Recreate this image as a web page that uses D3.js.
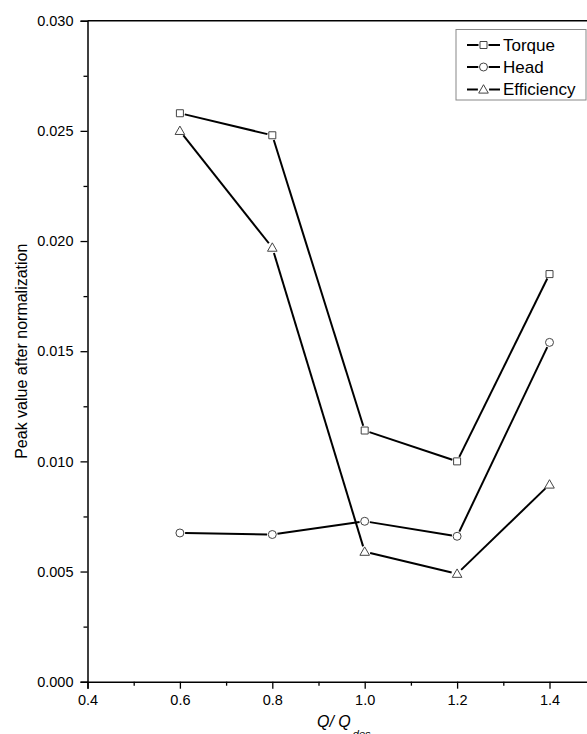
<!DOCTYPE html>
<html>
<head>
<meta charset="utf-8">
<script src="https://cdn.jsdelivr.net/npm/d3@7"></script>
<style>
  html, body { margin: 0; padding: 0; background: #fff; overflow: hidden; }
  svg { display: block; font-family: "Liberation Sans", Arial, sans-serif; }
</style>
</head>
<body>
<svg id="chart" width="587" height="734"></svg>
<script>
// Flow ratio Q/Qdes
const flowRatio = [0.6, 0.8, 1.0, 1.2, 1.4];

// Peak values after normalization
const torque     = [0.0258, 0.0248, 0.0114, 0.0100, 0.0185];
const head       = [0.00675, 0.00668, 0.00728, 0.00660, 0.0154];
const efficiency = [0.0250, 0.0197, 0.0059, 0.00490, 0.00895];

const seriesNames = ["Torque", "Head", "Efficiency"];
const seriesShapes = ["square", "circle", "triangle"];

const xMajorTicks = [0.4, 0.6, 0.8, 1.0, 1.2, 1.4];
const xMinorTicks = [0.5, 0.7, 0.9, 1.1, 1.3, 1.5];
const yMajorTicks = [0.000, 0.005, 0.010, 0.015, 0.020, 0.025, 0.030];
const yMinorTicks = [0.0025, 0.0075, 0.0125, 0.0175, 0.0225, 0.0275];

const svg = d3.select("#chart");

const plotLeft = 87.5, plotTop = 20.7, plotBottom = 681.7;
const xStep = 92.4; // pixels per 0.2
const x = d3.scaleLinear().domain([0.4, 1.5]).range([plotLeft, plotLeft + xStep * 5.5]);
const y = d3.scaleLinear().domain([0, 0.030]).range([plotBottom, plotTop]);

// frame: top and right edges
svg.append("path")
  .attr("d", `M${x(0.4)},${y(0.03)}H${x(1.5)}V${y(0)}`)
  .attr("fill", "none").attr("stroke", "#000").attr("stroke-width", 1.5);

// bottom axis
const xAxis = svg.append("g").attr("transform", `translate(0,${plotBottom})`);
xAxis.call(d3.axisBottom(x).tickValues(xMajorTicks).tickSize(7).tickPadding(6)
  .tickFormat(d3.format(".1f")));
xAxis.append("g").call(d3.axisBottom(x).tickValues(xMinorTicks).tickSize(4).tickFormat(""))
  .select(".domain").remove();

// left axis
const yAxis = svg.append("g").attr("transform", `translate(${plotLeft},0)`);
yAxis.call(d3.axisLeft(y).tickValues(yMajorTicks).tickSize(7).tickPadding(7)
  .tickFormat(d3.format(".3f")));
yAxis.append("g").call(d3.axisLeft(y).tickValues(yMinorTicks).tickSize(4).tickFormat(""))
  .select(".domain").remove();

svg.selectAll(".domain").attr("stroke-width", 1.5).attr("stroke", "#000");
svg.selectAll(".tick line").attr("stroke-width", 1.3).attr("stroke", "#000");
svg.selectAll(".tick text")
  .attr("font-size", 14.5).attr("fill", "#000")
  .attr("font-family", "'Liberation Sans', Arial, sans-serif");

// axis titles
svg.append("text")
  .attr("transform", `translate(27,${(plotTop + plotBottom) / 2}) rotate(-90)`)
  .attr("text-anchor", "middle")
  .attr("font-size", 16)
  .text("Peak value after normalization");

const xt = svg.append("text")
  .attr("x", 317).attr("y", 727)
  .attr("font-size", 16).attr("font-style", "italic");
xt.append("tspan").text("Q/ Q");
xt.append("tspan").attr("dx", 2).attr("dy", 11).attr("font-size", 11).text("des");

// marker drawing
function markerPath(shape) {
  if (shape === "square") return "M-3.5,-3.5H3.5V3.5H-3.5Z";
  if (shape === "circle") return d3.symbol(d3.symbolCircle, 50)();
  return "M0,-4.8L4.8,3.6H-4.8Z";
}
const gapRadius = { square: 5, circle: 5.2, triangle: 5.6 };

function drawSeries(values, shape) {
  const pts = flowRatio.map((q, i) => [x(q), y(values[i])]);
  const g = svg.append("g");
  const gap = gapRadius[shape];
  for (let i = 0; i < pts.length - 1; i++) {
    const [x0, y0] = pts[i], [x1, y1] = pts[i + 1];
    const len = Math.hypot(x1 - x0, y1 - y0);
    const ux = (x1 - x0) / len, uy = (y1 - y0) / len;
    g.append("line")
      .attr("x1", x0 + ux * gap).attr("y1", y0 + uy * gap)
      .attr("x2", x1 - ux * gap).attr("y2", y1 - uy * gap)
      .attr("stroke", "#000").attr("stroke-width", 2);
  }
  g.selectAll("path.mk").data(pts).join("path")
    .attr("class", "mk")
    .attr("transform", d => `translate(${d[0]},${d[1]})`)
    .attr("d", markerPath(shape))
    .attr("fill", "#fff").attr("stroke", "#444").attr("stroke-width", 1);
}

drawSeries(torque, "square");
drawSeries(head, "circle");
drawSeries(efficiency, "triangle");

// legend
const lg = svg.append("g");
lg.append("rect").attr("x", 456).attr("y", 29.5).attr("width", 130).attr("height", 70.5)
  .attr("fill", "#fff").attr("stroke", "#888").attr("stroke-width", 1);
const rowY = [45, 67, 89.5];
seriesNames.forEach((name, i) => {
  const cy = rowY[i], cx = 483.5, gap = gapRadius[seriesShapes[i]];
  lg.append("line").attr("x1", 467).attr("x2", cx - gap).attr("y1", cy).attr("y2", cy)
    .attr("stroke", "#000").attr("stroke-width", 2);
  lg.append("line").attr("x1", cx + gap).attr("x2", 500).attr("y1", cy).attr("y2", cy)
    .attr("stroke", "#000").attr("stroke-width", 2);
  lg.append("path").attr("transform", `translate(${cx},${cy})`)
    .attr("d", markerPath(seriesShapes[i]))
    .attr("fill", "#fff").attr("stroke", "#444").attr("stroke-width", 1);
  lg.append("text").attr("x", 503).attr("y", cy + 5.5)
    .attr("font-size", 17).text(name);
});
</script>
</body>
</html>
